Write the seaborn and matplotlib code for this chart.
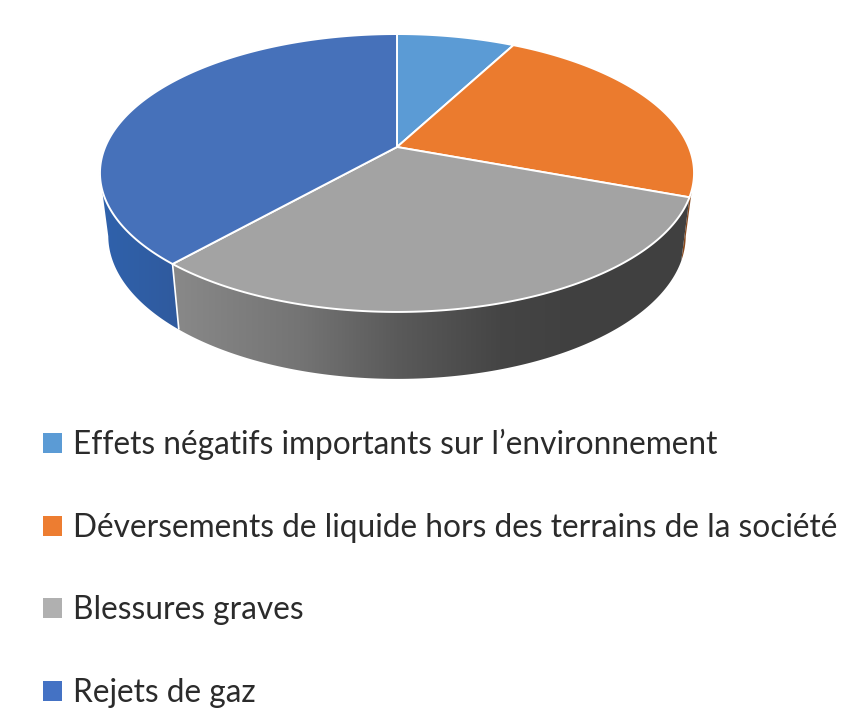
import numpy as np
import matplotlib
matplotlib.use("Agg")
import matplotlib.pyplot as plt
import seaborn as sns
from matplotlib.patches import Patch, Polygon

# data
categories = [
    "Effets négatifs importants sur l’environnement",
    "Déversements de liquide hors des terrains de la société",
    "Blessures graves",
    "Rejets de gaz",
]
values = [7.7, 23, 30.8, 38.5]
top_colors = ["#5B9BD5", "#EB7B2E", "#A3A3A3", "#4671BA"]
legend_colors = ["#5B9BD5", "#ED7D31", "#B0B0B0", "#4472C4"]

sns.set_theme(style="white")
plt.rcParams["font.family"] = ["Lato", "DejaVu Sans"]

# projection of the pie disc, in pixels of the 864x720 picture
APEX_X, APEX_Y = 397, 147
PERSP = 0.187
SCALE_X, SCALE_Y = 291.8, 134.1
DEPTH = 62
SIDE_SX, SIDE_SY = 0.972, 1.03
# where the disc is widest, the wall is not visible beyond these angles
WALL_FROM, WALL_TO = 101, 259


def project(angle):
    # angle in degrees, clockwise from 12 o'clock
    a = np.radians(angle)
    u, v = np.sin(a), np.cos(a)
    w = 1 + PERSP * v
    return APEX_X + SCALE_X * u / w, APEX_Y - SCALE_Y * v / w


def project_bottom(angle):
    x, y = project(angle)
    return APEX_X + (x - APEX_X) * SIDE_SX, APEX_Y + (y - APEX_Y) * SIDE_SY + DEPTH


# shading of the side wall along x
side_stops = {
    1: ([600, 700], ["#8A4A1E", "#8A4A1E"]),
    2: ([178, 300, 397, 500, 560, 700], ["#888888", "#747474", "#5A5A5A", "#454545", "#414141", "#404040"]),
    3: ([100, 178], ["#3062AC", "#2F5A9E"]),
}


def side_gradient(i):
    xs, cols = side_stops[i]
    rgb = np.array([matplotlib.colors.to_rgb(c) for c in cols])
    grid = np.arange(0, 864)
    return np.stack([np.interp(grid, xs, rgb[:, k]) for k in range(3)], axis=-1)[None, :, :]


fig = plt.figure(figsize=(8.64, 7.2), dpi=100)
ax = fig.add_axes([0, 0, 1, 1])

edges = np.cumsum([0] + values) / sum(values) * 360

# side walls, blue last so that its seam sits on top
for i in [1, 2, 3]:
    start = max(edges[i], WALL_FROM)
    stop = min(edges[i + 1], WALL_TO)
    angles = np.linspace(start, stop, 300)
    x0, y0 = project(angles)
    x1, y1 = project_bottom(angles)
    wall = Polygon(np.column_stack([np.r_[x0, x1[::-1]], np.r_[y0, y1[::-1]]]),
                   closed=True, transform=ax.transData, facecolor="none", edgecolor="none")
    ax.add_patch(wall)
    img = ax.imshow(side_gradient(i), extent=(0, 864, 720, 0), aspect="auto", interpolation="bilinear")
    img.set_clip_path(wall)

ax.set_xlim(0, 864)
ax.set_ylim(720, 0)
ax.axis("off")

# seam between blue and grey walls
seam = edges[3]
ax.plot(*zip(project(seam), project_bottom(seam)), color="white", lw=1.2, solid_capstyle="butt")

# top of the pie
for i, color in enumerate(top_colors):
    angles = np.linspace(edges[i], edges[i + 1], 200)
    x, y = project(angles)
    pts = np.column_stack([np.r_[APEX_X, x], np.r_[APEX_Y, y]])
    ax.add_patch(Polygon(pts, closed=True, facecolor=color, edgecolor="white", lw=1.4, joinstyle="round"))

handles = [Patch(facecolor=c, edgecolor="none") for c in legend_colors]
ax.legend(
    handles, categories,
    loc="upper left", bbox_to_anchor=(43 / 864, 1 - 429 / 720),
    frameon=False, borderpad=0, borderaxespad=0,
    prop={"family": ["Lato", "DejaVu Sans"], "size": 22.8},
    labelcolor="#2B2B2B",
    handlelength=0.6, handleheight=0.6, handletextpad=0.36,
    labelspacing=1.66,
)

fig.savefig("out.png", dpi=100, facecolor="white")
